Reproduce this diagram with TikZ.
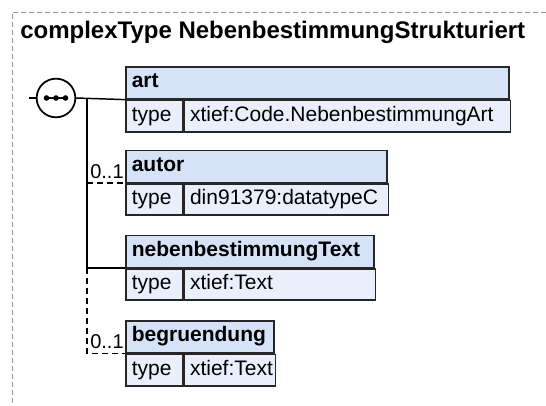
\documentclass[tikz,border=0pt]{standalone}
\usepackage{fontspec}
\setmainfont{Liberation Sans}
\definecolor{hdrblue}{RGB}{214,226,247}
\definecolor{rowblue}{RGB}{233,240,252}
\definecolor{framegray}{RGB}{150,150,150}

\begin{document}
\begin{tikzpicture}[x=0.75pt, y=-0.75pt,
    hdr/.style={draw=black!85, fill=hdrblue, line width=1.2pt, anchor=north west,
      minimum height=24pt, inner xsep=4.5pt, inner ysep=0pt, align=left,
      text height=11.5pt, text depth=4pt, font=\fontsize{15.75}{18}\selectfont\bfseries},
    cell/.style={draw=black!85, fill=rowblue, line width=1.2pt, anchor=north west,
      minimum height=23.5pt, inner xsep=4.5pt, inner ysep=0pt, align=left,
      text height=11.5pt, text depth=4pt, font=\fontsize{15.75}{18}\selectfont},
    link/.style={line width=1.1pt},
    optlink/.style={line width=1.1pt, dash pattern=on 4.5pt off 3pt},
    card/.style={anchor=base west, inner sep=0pt, font=\fontsize{15}{18}\selectfont}]
  \useasboundingbox (0,0) rectangle (546,405);

  % frame and title
  \draw[framegray, line width=0.6pt, dash pattern=on 3.5pt off 2.5pt] (546,12) -- (12,12) -- (12,405);
  \node[anchor=base west, inner sep=0pt, font=\fontsize{18}{21}\selectfont\bfseries]
    (title) at (20,38) {complexType NebenbestimmungStrukturiert};

  % sequence compositor
  \node[draw, fill=white, circle, line width=1.3pt, minimum size=29pt, inner sep=0pt] (seq) at (56,98) {};
  \draw[line width=1.5pt] (45,98) -- (67,98);
  \foreach \dx in {46.5,56,65.5}
    \fill (\dx,98) circle (2.1pt);

  % elements
  \node[hdr, text width=278.25pt] (arth) at (125,66) {art};
  \node[cell, text width=33.5pt] (artt) at (arth.south west) {type};
  \node[cell, text width=235.75pt] (artv) at (artt.north east) {xtief:Code.NebenbestimmungArt};

  \node[hdr, text width=186.75pt] (autorh) at (125,149.5) {autor};
  \node[cell, text width=33.5pt] (autort) at (autorh.south west) {type};
  \node[cell, text width=144.25pt] (autorv) at (autort.north east) {din91379:datatypeC};

  \node[hdr, text width=177pt] (nebh) at (125,234.5) {nebenbestimmungText};
  \node[cell, text width=33.5pt] (nebt) at (nebh.south west) {type};
  \node[cell, text width=134.5pt] (nebv) at (nebt.north east) {xtief:Text};

  \node[hdr, text width=102pt] (begrh) at (125,320) {begruendung};
  \node[cell, text width=33.5pt] (begrt) at (begrh.south west) {type};
  \node[cell, text width=59.5pt] (begrv) at (begrt.north east) {xtief:Text};

  % connectors
  \coordinate (in) at (29,98);
  \coordinate (fork) at (87,98);
  \draw[link] (in) -- (seq.west);
  \draw[link] (seq.east) -- (arth.south west);
  \draw[link] (fork) -- (fork |- nebh.south west) -- (nebh.south west);
  \draw[optlink] (fork |- autorh.south west) -- (autorh.south west);
  \draw[optlink] (fork |- nebh.south west) -- (fork |- begrh.south west) -- (begrh.south west);

  % occurrence labels
  \node[card] (autorocc) at (90,178) {0..1};
  \node[card] (begrocc) at (90,348) {0..1};
\end{tikzpicture}
\end{document}
